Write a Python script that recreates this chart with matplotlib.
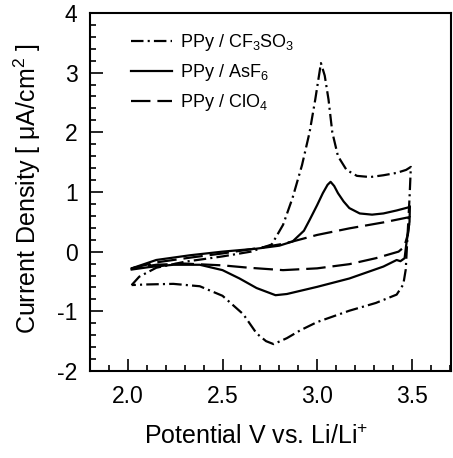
import matplotlib
matplotlib.use("Agg")
import matplotlib.pyplot as plt
from matplotlib.ticker import MultipleLocator, FormatStrFormatter

plt.rcParams['font.family'] = ['Liberation Sans', 'DejaVu Sans']
plt.rcParams['mathtext.default'] = 'regular'
plt.rcParams['axes.unicode_minus'] = False
plt.rcParams['lines.scale_dashes'] = False

# PPy / CF3SO3 (dash-dot), one full cycle starting at 2.0 V
cf3so3_v = [2.02, 2.06, 2.15, 2.30, 2.50, 2.65, 2.76, 2.82, 2.87, 2.92, 2.96, 2.99,
            3.02, 3.04, 3.06, 3.08, 3.11, 3.155, 3.21, 3.28, 3.35, 3.42, 3.47, 3.495,
            3.488, 3.478, 3.468, 3.455, 3.42, 3.31, 3.17, 3.00, 2.91, 2.84, 2.77,
            2.73, 2.68, 2.61, 2.50, 2.38, 2.24, 2.10, 2.02]
cf3so3_i = [-0.56, -0.42, -0.27, -0.17, -0.08, 0.00, 0.12, 0.45, 0.90, 1.45, 2.00, 2.55,
            3.16, 2.95, 2.55, 2.00, 1.60, 1.37, 1.27, 1.25, 1.28, 1.32, 1.37, 1.42,
            0.90, 0.30, -0.30, -0.55, -0.72, -0.86, -0.99, -1.18, -1.32, -1.45, -1.55,
            -1.50, -1.37, -1.05, -0.74, -0.58, -0.54, -0.55, -0.56]

# PPy / AsF6 (solid)
asf6_v = [2.02, 2.15, 2.33, 2.50, 2.68, 2.80, 2.87, 2.93, 2.96, 3.00, 3.03, 3.055,
          3.071, 3.09, 3.11, 3.14, 3.17, 3.225, 3.29, 3.35, 3.42, 3.48, 3.49,
          3.488, 3.47, 3.462, 3.44, 3.42, 3.35, 3.17, 3.00, 2.84, 2.78, 2.68, 2.59,
          2.50, 2.38, 2.24, 2.11, 2.02]
asf6_i = [-0.28, -0.14, -0.06, 0.00, 0.05, 0.10, 0.17, 0.35, 0.53, 0.78, 0.98, 1.12,
          1.17, 1.10, 0.98, 0.84, 0.73, 0.64, 0.62, 0.64, 0.69, 0.74, 0.76,
          0.50, 0.10, -0.11, -0.16, -0.14, -0.25, -0.45, -0.59, -0.71, -0.73, -0.61, -0.45,
          -0.31, -0.22, -0.22, -0.26, -0.30]

# PPy / ClO4 (dashed)
clo4_v = [2.02, 2.15, 2.33, 2.50, 2.65, 2.80, 2.87, 3.00, 3.17, 3.35, 3.49,
          3.48, 3.46, 3.43, 3.31, 3.17, 3.00, 2.82, 2.64, 2.50, 2.30, 2.15, 2.02]
clo4_i = [-0.28, -0.18, -0.10, -0.03, 0.04, 0.12, 0.17, 0.28, 0.39, 0.49, 0.58,
          0.30, 0.08, 0.00, -0.11, -0.21, -0.28, -0.31, -0.27, -0.23, -0.20, -0.22, -0.28]

labels = ['PPy / CF$_3$SO$_3$', 'PPy / AsF$_6$', 'PPy / ClO$_4$']

fig = plt.figure(figsize=(4.53, 4.58), dpi=100)
ax = fig.add_axes([0.1987, 0.19, 0.796, 0.7817])

ax.plot(cf3so3_v, cf3so3_i, color='black', lw=1.6, dashes=(9, 3, 1.5, 3), label=labels[0])
ax.plot(asf6_v, asf6_i, color='black', lw=1.6, label=labels[1])
ax.plot(clo4_v, clo4_i, color='black', lw=1.6, dashes=(14, 5), label=labels[2])

ax.set_xlim(1.8, 3.705)
ax.set_ylim(-2, 4)
ax.xaxis.set_major_locator(MultipleLocator(0.5))
ax.xaxis.set_minor_locator(MultipleLocator(0.1))
ax.yaxis.set_major_locator(MultipleLocator(1))
ax.yaxis.set_minor_locator(MultipleLocator(0.2))
ax.xaxis.set_major_formatter(FormatStrFormatter('%.1f'))
ax.yaxis.set_major_formatter(FormatStrFormatter('%d'))
ax.tick_params(which='both', direction='in', width=1.2, labelsize=16.5)
ax.tick_params(which='major', length=9)
ax.tick_params(which='minor', length=4.5)
ax.tick_params(axis='x', pad=10)
ax.tick_params(axis='y', pad=9)
for s in ax.spines.values():
    s.set_linewidth(1.5)

ax.set_xlabel('Potential V vs. Li/Li$^{+}$', fontsize=18)
ax.set_ylabel('Current Density [ $\\mu$A/cm$^{2}$ ]', fontsize=18)
ax.xaxis.set_label_coords(0.4616, -0.15)
ax.yaxis.set_label_coords(-0.13, 0.51)

ax.legend(loc='upper left', bbox_to_anchor=(0.113, 0.947), frameon=False,
          fontsize=13, handlelength=2.3, handletextpad=0.45, labelspacing=0.5,
          borderpad=0, borderaxespad=0)

fig.savefig('out.png', dpi=100)
